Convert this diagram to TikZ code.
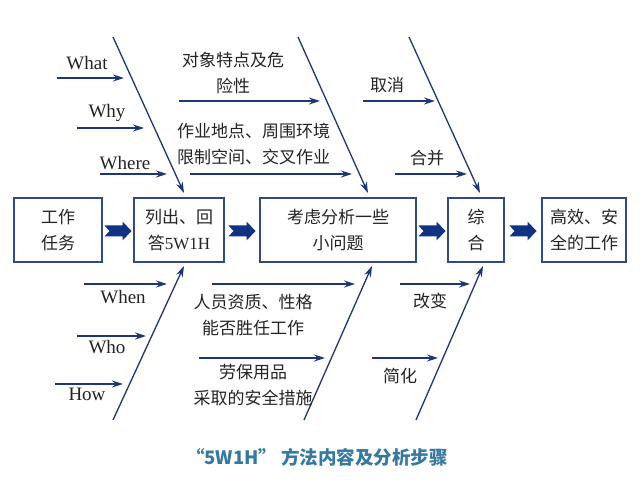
\documentclass[tikz,border=0pt]{standalone}
\usepackage{fontspec}
\setmainfont{Liberation Serif}
\newfontfamily\cjk{Noto Sans CJK SC}
\usetikzlibrary{arrows.meta,calc}
\definecolor{navy}{RGB}{30,55,115}
\definecolor{boxline}{RGB}{50,75,120}
\definecolor{fatblue}{RGB}{15,50,130}
\definecolor{titleblue}{RGB}{55,120,160}
\definecolor{ink}{RGB}{35,35,35}

\begin{document}
\begin{tikzpicture}[x=1pt,y=-1pt,
box/.style={draw=boxline,line width=1.4pt,minimum height=64pt,align=center,inner sep=0pt,text=ink,font=\cjk\fontsize{17}{26}\selectfont},
bone/.style={navy,line width=1.3pt,-{Stealth[length=11pt,width=7pt]}},
lbl/.style={text=ink,inner sep=0pt,align=center,font=\cjk\fontsize{17}{26}\selectfont},
wlbl/.style={text=ink,inner sep=0pt,font=\fontsize{19}{22}\selectfont},
bigarrow/.style={fill=fatblue}]
\useasboundingbox[fill=white] (0,0) rectangle (640,486);
% main chain of steps
\node[box,minimum width=88pt] (task) at (58,230) {工作\\任务};
\node[box,minimum width=90pt] (list) at (179,230) {列出、回\\答{\rmfamily 5W1H}};
\node[box,minimum width=156pt] (think) at (338,230) {考虑分析一些\\小问题};
\node[box,minimum width=56pt] (merge) at (476,230) {综\\合};
\node[box,minimum width=84pt] (goal) at (584,230) {高效、安\\全的工作};
% fat arrows between the boxes
\foreach \a/\b in {task/list,list/think,think/merge,merge/goal}{
\fill[bigarrow] ($(\a.east)!0.5!(\b.west)+(0,1)$) ++(-13.5,-5.5) -- ++(18,0) -- ++(0,-4) -- ++(9,9.5) -- ++(-9,9.5) -- ++(0,-4) -- ++(-18,0) -- ++(5,-5.5) -- cycle;
}
% slanted bones
\foreach \n/\xa/\ya/\xb/\yb in {t1/113/37/184/193,t2/298/37/368/193,t3/409/37/480/193,b1/113/420/184/266,b2/304/420/372/266,b3/416/420/483/266}{
\coordinate (\n s) at (\xa,\ya);
\coordinate (\n e) at (\xb,\yb);
\draw[bone] (\n s) -- (\n e);
}
% small arrows onto the bones
\foreach \n/\xa/\xb/\y in {what/57/124/78,why/77/144/128,where/100/167/174,obj/179/320/101,site/190/352/174,cancel/363/435/101,comb/395/467/174,when/84/167/284,who/77/146/336,how/55/123/384,staff/212/355/284,ppe/199/325/358,change/400/470/284,simp/372/438/358}{
\coordinate (\n s) at (\xa,\y);
\coordinate (\n e) at (\xb,\y);
\draw[bone] (\n s) -- (\n e);
}
% 5W1H labels
\node[wlbl] (lwhat) at (87,63) {What};
\node[wlbl] (lwhy) at (107,113) {Why};
\node[wlbl] (lwhere) at (125,163) {Where};
\node[wlbl] (lwhen) at (123,297) {When};
\node[wlbl] (lwho) at (107,347) {Who};
\node[wlbl] (lhow) at (87,394) {How};
% question labels
\node[lbl] (lobj) at (233,73.5) {对象特点及危\\险性};
\node[lbl,align=left,anchor=west] (lsite) at (177,144.5) {作业地点、周围环境\\限制空间、交叉作业};
\node[lbl] (lstaff) at (253,315) {人员资质、性格\\能否胜任工作};
\node[lbl] (lppe) at (253,385) {劳保用品\\采取的安全措施};
\node[lbl] (lcancel) at (387,85) {取消};
\node[lbl] (lcomb) at (427,158) {合并};
\node[lbl] (lchange) at (430,301) {改变};
\node[lbl] (lsimp) at (400,376) {简化};
% caption
\node[text=titleblue,font=\cjk\bfseries\fontsize{18.5}{22}\selectfont] (title) at (317,457) {“5W1H”\ 方法内容及分析步骤};
\end{tikzpicture}
\end{document}
